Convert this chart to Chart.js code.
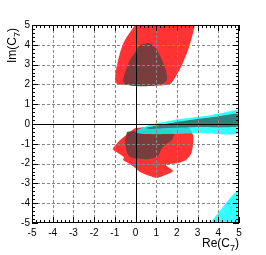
<!DOCTYPE html>
<html><head><meta charset="utf-8">
<script src="https://cdn.jsdelivr.net/npm/chart.js@4.4.1/dist/chart.umd.min.js"></script>
<style>html,body{margin:0;padding:0;background:#fff;}canvas{display:block;}</style>
</head><body>
<canvas id="c" width="266" height="255"></canvas>
<script>
// Axis ticks
const xTicks = [-5,-4,-3,-2,-1,0,1,2,3,4,5];
const yTicks = [-5,-4,-3,-2,-1,0,1,2,3,4,5];
const xTitle = ["Re(C", "7", ")"];
const yTitle = ["Im(C", "7", ")"];

// Contour regions [Re, Im]
const redUpper = [[-0.02,5.0],[-0.51,4.24],[-0.75,3.59],[-0.94,2.73],[-0.99,2.22],[-0.89,2.02],[-0.51,1.97],[0.70,1.92],[1.67,2.02],[1.96,2.42],[2.20,2.88],[2.54,3.74],[2.78,4.6],[2.87,5.0]];
const darkRedUpper = [[0.60,4.09],[0.22,3.99],[0.07,3.74],[-0.27,3.23],[-0.46,2.73],[-0.60,2.22],[-0.51,2.02],[-0.02,1.92],[0.70,1.92],[1.28,2.02],[1.52,2.22],[1.47,2.73],[1.28,3.23],[1.04,3.74],[0.80,4.04]];
const redLower = [[-0.27,-0.40],[0.02,-0.20],[1.2,-0.15],[2.54,-0.15],[2.78,-0.56],[2.78,-1.06],[2.68,-1.52],[2.44,-1.82],[2.05,-1.97],[1.47,-2.07],[1.81,-2.37],[1.43,-2.58],[1.04,-2.73],[0.70,-2.63],[0.22,-2.42],[-0.07,-2.17],[-0.36,-1.97],[-0.60,-1.82],[-0.56,-1.67],[-0.85,-1.46],[-1.09,-1.26],[-0.75,-0.81]];
const darkRedLower = [[-0.41,-0.40],[0.70,-0.28],[1.67,-0.30],[1.86,-0.51],[1.76,-0.81],[1.43,-1.06],[1.23,-1.31],[1.09,-1.62],[0.70,-1.77],[-0.12,-1.72],[-0.36,-1.57],[-0.46,-1.21],[-0.51,-0.81]];
const cyanBand = [[-0.02,-0.35],[0.70,-0.05],[1.33,0.10],[2.15,0.25],[3.36,0.40],[4.18,0.56],[5.0,0.66],[5.0,-0.45],[3.12,-0.45],[1.67,-0.51],[0.46,-0.51],[0.07,-0.45]];
const tealBand = [[0.46,-0.20],[1.18,-0.05],[2.0,0.10],[2.63,0.20],[3.8,0.35],[5.0,0.50],[5.0,-0.10],[3.12,-0.15],[1.67,-0.20],[0.70,-0.25]];
const cyanCorner = [[3.60,-5.0],[5.0,-3.33],[5.0,-5.0]];

// painting order: first = bottom
const regions = [
  {pts: redUpper, color: 'rgba(255,0,0,0.8)'},
  {pts: redLower, color: 'rgba(255,0,0,0.8)'},
  {pts: darkRedUpper, color: 'rgb(122,60,60)'},
  {pts: darkRedLower, color: 'rgb(122,60,60)'},
  {pts: cyanBand, color: 'rgba(0,255,255,0.8)'},
  {pts: tealBand, color: 'rgb(48,128,128)'},
  {pts: cyanCorner, color: 'rgba(0,255,255,0.8)'}
];

const FONT = '"Liberation Sans", Arial, Helvetica, sans-serif';

const overlay = {
  id: 'overlay',
  afterDatasetsDraw(chart) {
    const {ctx, chartArea: a, scales: {x, y}} = chart;
    ctx.save();
    ctx.lineWidth = 1;
    ctx.strokeStyle = '#888';
    ctx.setLineDash([3, 2]);
    xTicks.forEach(v => {
      if (v <= -5 || v >= 5 || v === 0) return;
      const px = Math.round(x.getPixelForValue(v)) + 0.5;
      ctx.beginPath(); ctx.moveTo(px, a.top); ctx.lineTo(px, a.bottom); ctx.stroke();
    });
    yTicks.forEach(v => {
      if (v <= -5 || v >= 5 || v === 0) return;
      const py = Math.round(y.getPixelForValue(v)) + 0.5;
      ctx.beginPath(); ctx.moveTo(a.left, py); ctx.lineTo(a.right, py); ctx.stroke();
    });
    ctx.setLineDash([]);
    ctx.strokeStyle = '#000';
    const x0 = Math.round(x.getPixelForValue(0)) + 0.5;
    const y0 = Math.round(y.getPixelForValue(0)) + 0.5;
    ctx.beginPath(); ctx.moveTo(x0, a.top); ctx.lineTo(x0, a.bottom); ctx.stroke();
    ctx.beginPath(); ctx.moveTo(a.left, y0); ctx.lineTo(a.right, y0); ctx.stroke();
    ctx.strokeRect(a.left + 0.5, a.top + 0.5, a.right - a.left - 1, a.bottom - a.top - 1);
    for (let i = 0; i <= 50; i++) {
      const v = -5 + i * 0.2;
      const len = (i % 5 === 0) ? 6 : 3;
      const px = Math.round(x.getPixelForValue(v)) + 0.5;
      ctx.beginPath();
      ctx.moveTo(px, a.bottom); ctx.lineTo(px, a.bottom - len);
      ctx.moveTo(px, a.top); ctx.lineTo(px, a.top + len);
      ctx.stroke();
      const py = Math.round(y.getPixelForValue(v)) + 0.5;
      ctx.beginPath();
      ctx.moveTo(a.left, py); ctx.lineTo(a.left + len, py);
      ctx.moveTo(a.right, py); ctx.lineTo(a.right - len, py);
      ctx.stroke();
    }
    ctx.restore();
  },
  afterDraw(chart) {
    const {ctx, chartArea: a} = chart;
    ctx.save();
    ctx.fillStyle = '#000';
    ctx.textBaseline = 'alphabetic';
    const big = '12px ' + FONT, small = '9px ' + FONT;
    function widths(t) {
      ctx.font = big; const w0 = ctx.measureText(t[0]).width, w2 = ctx.measureText(t[2]).width;
      ctx.font = small; const w1 = ctx.measureText(t[1]).width;
      return [w0, w1, w2];
    }
    function drawTitle(t, endX, baseY) {
      const w = widths(t);
      let sx = endX - (w[0] + w[1] + w[2]);
      ctx.font = big; ctx.fillText(t[0], sx, baseY);
      ctx.font = small; ctx.fillText(t[1], sx + w[0], baseY + 4);
      ctx.font = big; ctx.fillText(t[2], sx + w[0] + w[1], baseY);
    }
    drawTitle(xTitle, a.right, 247);
    ctx.translate(16, a.top + 3);
    ctx.rotate(-Math.PI / 2);
    drawTitle(yTitle, 0, 0);
    ctx.restore();
  }
};

new Chart(document.getElementById('c'), {
  type: 'scatter',
  data: {
    datasets: regions.map((r, i) => ({
      type: 'line',
      order: regions.length - i,
      data: r.pts.map(p => ({x: p[0], y: p[1]})),
      showLine: true,
      fill: 'shape',
      backgroundColor: r.color,
      borderWidth: 0,
      borderColor: 'rgba(0,0,0,0)',
      pointRadius: 0,
      tension: 0.25
    }))
  },
  options: {
    responsive: false,
    animation: false,
    events: [],
    layout: {padding: {left: 0, top: 25, right: 27, bottom: 0}},
    plugins: {legend: {display: false}, tooltip: {enabled: false}},
    scales: {
      x: {
        type: 'linear', min: -5, max: 5,
        afterBuildTicks: s => { s.ticks = xTicks.map(v => ({value: v})); },
        afterFit: s => { s.height = 32; },
        grid: {display: false, drawTicks: false},
        border: {display: false},
        ticks: {autoSkip: false, maxRotation: 0, padding: 4, color: '#000', font: {family: FONT, size: 10}, callback: v => String(v)}
      },
      y: {
        type: 'linear', min: -5, max: 5,
        afterBuildTicks: s => { s.ticks = yTicks.map(v => ({value: v})); },
        afterFit: s => { s.width = 32; },
        grid: {display: false, drawTicks: false},
        border: {display: false},
        ticks: {autoSkip: false, padding: 2, color: '#000', font: {family: FONT, size: 10}, callback: v => String(v)}
      }
    }
  },
  plugins: [overlay]
});
</script>
</body></html>
